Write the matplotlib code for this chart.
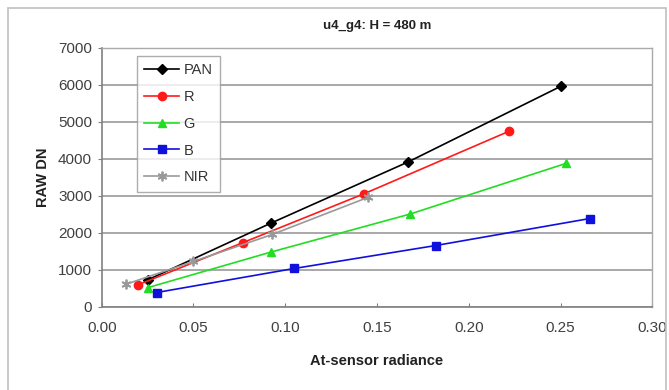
import matplotlib
matplotlib.use('Agg')
import matplotlib.pyplot as plt
from matplotlib.patches import Rectangle

plt.rcParams['font.family'] = ['Liberation Sans', 'DejaVu Sans']

# radiance / DN values
pan_x = [0.025, 0.092, 0.167, 0.250]
pan_y = [730, 2260, 3920, 5960]
r_x = [0.020, 0.077, 0.143, 0.222]
r_y = [600, 1740, 3060, 4750]
g_x = [0.025, 0.092, 0.168, 0.253]
g_y = [520, 1480, 2510, 3880]
b_x = [0.030, 0.105, 0.182, 0.266]
b_y = [390, 1040, 1660, 2390]
nir_x = [0.013, 0.050, 0.093, 0.145]
nir_y = [610, 1230, 1960, 2960]

fig = plt.figure(figsize=(6.69, 3.9), dpi=100)
ax = fig.add_axes([0.152, 0.213, 0.823, 0.664])

# outer chart border (runs off the bottom in the original)
fig.patches.append(Rectangle((0.012, -0.02), 0.983, 1.0, transform=fig.transFigure,
                             fill=False, edgecolor='#c0c0c0', linewidth=1.2))

ax.plot(pan_x, pan_y, color='black', marker='D', markersize=5, lw=1.2, label='PAN')
ax.plot(r_x, r_y, color='#ff1a1a', marker='o', markersize=6, lw=1.2, label='R')
ax.plot(g_x, g_y, color='#22dd22', marker='^', markersize=6, lw=1.2, label='G')
ax.plot(b_x, b_y, color='#1010dd', marker='s', markersize=6, lw=1.2, label='B')
ax.plot(nir_x, nir_y, color='#999999', marker=(6, 2, 0), markersize=7, mew=1.3, lw=1.2, label='NIR')

ax.set_xlim(0, 0.30)
ax.set_ylim(0, 7000)
ax.set_xticks([0.00, 0.05, 0.10, 0.15, 0.20, 0.25, 0.30])
ax.set_xticklabels(['0.00', '0.05', '0.10', '0.15', '0.20', '0.25', '0.30'])
ax.set_yticks(range(0, 7001, 1000))
ax.tick_params(labelsize=11, length=3, color='#808080', labelcolor='#404040')
ax.tick_params(axis='x', direction='in', pad=10)
ax.tick_params(axis='y', direction='out', pad=4)
ax.grid(axis='y', color='#999999', lw=1.2)
ax.set_axisbelow(True)
for s in ['left', 'bottom']:
    ax.spines[s].set_color('#808080')
    ax.spines[s].set_linewidth(1.2)
for s in ['top', 'right']:
    ax.spines[s].set_color('#aaaaaa')
    ax.spines[s].set_linewidth(1.0)

ax.set_title('u4_g4: H = 480 m', fontsize=9.5, fontweight='bold', pad=14, color='#222222')
ax.set_xlabel('At-sensor radiance', fontsize=10.5, fontweight='bold', labelpad=14, color='#222222')
ax.set_ylabel('RAW DN', fontsize=10.5, fontweight='bold', labelpad=6, color='#222222')

leg = ax.legend(loc='upper left', bbox_to_anchor=(0.064, 0.97), fontsize=10.5, frameon=True,
                fancybox=False, edgecolor='#999999', handlelength=2.4, labelspacing=0.88,
                borderpad=0.5, handletextpad=0.3, borderaxespad=0)
leg.get_frame().set_linewidth(1.0)
for t in leg.get_texts():
    t.set_color('#333333')

fig.savefig('out.png', dpi=100)
